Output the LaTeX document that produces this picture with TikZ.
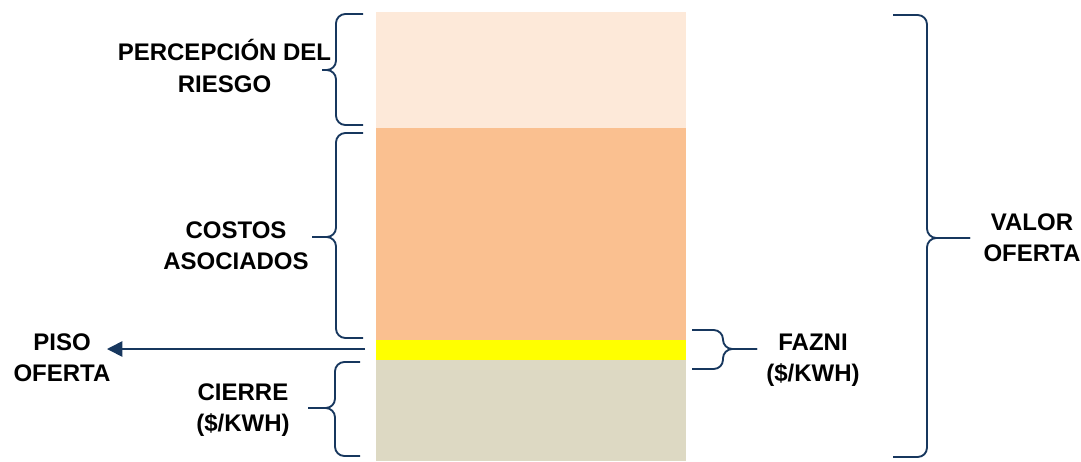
\documentclass[tikz,border=0pt]{standalone}
\usepackage{fontspec}
\setmainfont{Liberation Sans}
\usetikzlibrary{arrows.meta}

\definecolor{riskcol}{HTML}{FDE9D9}
\definecolor{costcol}{HTML}{FAC090}
\definecolor{faznicol}{HTML}{FFFF00}
\definecolor{cierrecol}{HTML}{DDD9C3}
\definecolor{bracecol}{HTML}{17375E}

\tikzset{
  lbl/.style={font=\bfseries\fontsize{18}{23}\selectfont, align=center,
              inner sep=0pt, text=black},
  layer/.style={draw=none, inner sep=0pt, outer sep=0pt, anchor=north west,
                minimum width=232.5pt},
  brc/.style={draw=bracecol, line width=1.4pt, rounded corners=7pt},
  pointer/.style={draw=bracecol, line width=1.2pt,
                  -{Triangle[length=11.5pt,width=11.5pt]}},
}

% curly bracket: end x, spine x, tip x, top y, middle y, bottom y
\newcommand\curlybrc[6]{%
  \draw[brc] (#1,#4) -| (#2,#5) -- (#3,#5);
  \draw[brc] (#1,#6) -| (#2,#5) -- (#3,#5);
}

\begin{document}
\begin{tikzpicture}[x=0.75pt,y=-0.75pt]
  \useasboundingbox (0,0) rectangle (1081,461);

  % stacked price components
  \node[layer, fill=riskcol,   minimum height=87pt]    (riesgo) at (376,12)  {};
  \node[layer, fill=costcol,   minimum height=159pt]   (costos) at (376,128) {};
  \node[layer, fill=faznicol,  minimum height=15pt]    (fazni)  at (376,340) {};
  \node[layer, fill=cierrecol, minimum height=75.75pt] (cierre) at (376,360) {};

  % brackets on the left
  \curlybrc{363}{336}{322}{14}{70}{125}
  \curlybrc{363}{336}{312}{133}{237}{338}
  \curlybrc{360}{335}{308}{362}{408}{456}
  % brackets on the right
  \curlybrc{692}{723}{757}{330}{349}{369}
  \curlybrc{893}{927}{970}{15}{238}{457}

  % labels
  \node[lbl, font=\bfseries\fontsize{18}{24}\selectfont] (tRiesgo) at (224.5,66) {PERCEPCIÓN DEL\\RIESGO};
  \node[lbl] (tCostos) at (236,246) {COSTOS\\ASOCIADOS};
  \node[lbl] (tPiso)   at (62,358)   {PISO\\OFERTA};
  \node[lbl] (tCierre) at (243,410)  {CIERRE\\(\$/KWH)};
  \node[lbl] (tFazni)  at (813,360)  {FAZNI\\(\$/KWH)};
  \node[lbl] (tValor)  at (1032,238) {VALOR\\OFERTA};

  % floor price pointer
  \coordinate (pisoFrom) at (365,349);
  \coordinate (pisoTo)   at (107,349);
  \draw[pointer] (pisoFrom) -- (pisoTo);
\end{tikzpicture}
\end{document}
